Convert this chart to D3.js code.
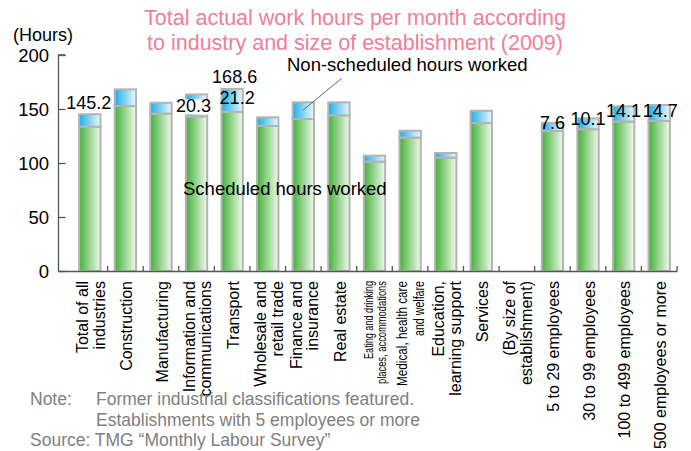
<!DOCTYPE html>
<html>
<head>
<meta charset="utf-8">
<script src="https://cdn.jsdelivr.net/npm/d3@7/dist/d3.min.js"></script>
<style>
  body { margin: 0; background: #fff; }
  text { font-family: "Liberation Sans", Arial, Helvetica, sans-serif; }
</style>
</head>
<body>
<div id="chart"></div>
<script>
// categories, one entry per bar slot ("|" splits the label into lines)
var categories = [
  "Total of all|industries", "Construction", "Manufacturing",
  "Information and|communications", "Transport", "Wholesale and|retail trade",
  "Finance and|insurance", "Real estate",
  "Eating and drinking|places, accommodations",
  "Medical, health care|and welfare", "Education,|learning support",
  "Services", "(By size of|establishment)",
  "5 to 29 employees", "30 to 99 employees", "100 to 499 employees",
  "500 employees or more"
];
// hours per month (slot 12 is the empty heading slot)
var scheduled    = [133.6, 152.8, 145.7, 143.2, 147.4, 134.3, 140.7, 144.1, 101.2, 123.5, 104.9, 137.0, null, 129.6, 131.3, 138.4, 139.0];
var nonScheduled = [ 11.6,  15.4,  10.1,  20.3,  21.2,   8.0,  15.5,  12.1,   5.6,   6.4,   4.4,  11.4, null,   7.6,  10.1,  14.1,  14.7];
var yTicks = [0, 50, 100, 150, 200];

// value labels printed on the chart
var noteIndex = [0, 3, 4, 4, 13, 14, 15, 16];
var noteText  = ["145.2", "20.3", "168.6", "21.2", "7.6", "10.1", "14.1", "14.7"];

var W = 691, H = 451;

var svg = d3.select("#chart").append("svg")
  .attr("width", W).attr("height", H);

var defs = svg.append("defs");
function grad(id, c0, c1) {
  var g = defs.append("linearGradient").attr("id", id)
    .attr("x1", "0%").attr("x2", "100%").attr("y1", "0%").attr("y2", "0%");
  g.append("stop").attr("offset", "0%").attr("stop-color", c0);
  g.append("stop").attr("offset", "100%").attr("stop-color", c1);
}
grad("gGreen", "#43b139", "#f2f9ee");
grad("gBlue", "#1fade6", "#eef8fd");

var x = d3.scaleBand()
  .domain(d3.range(categories.length))
  .range([72, 677])
  .paddingInner(0.4)
  .paddingOuter(0.2);

var y = d3.scaleLinear().domain([0, 200]).range([271, 55]);

// title
var title = svg.append("text")
  .attr("text-anchor", "middle")
  .style("font-size", "21.5px")
  .style("fill", "#f07e99");
title.append("tspan").attr("x", 355).attr("y", 25).text("Total actual work hours per month according");
title.append("tspan").attr("x", 355).attr("y", 50).text("to industry and size of establishment (2009)");

svg.append("text")
  .attr("x", 13).attr("y", 41)
  .style("font-size", "18px")
  .text("(Hours)");

// y axis (ticks point inward)
var yAxis = svg.append("g").attr("transform", "translate(58.5,0)")
  .call(d3.axisRight(y).tickValues(yTicks).tickSize(7).tickFormat(""));
yAxis.select(".domain").attr("d", "M7," + y(200) + "H0V" + y(0));
yAxis.selectAll("line, path").attr("stroke", "#555").attr("stroke-width", 1.3);

svg.selectAll(".ylab").data(yTicks).enter().append("text")
  .attr("class", "ylab")
  .attr("x", 49).attr("y", function(d) { return y(d); })
  .attr("dy", "0.36em")
  .attr("text-anchor", "end")
  .style("font-size", "18.5px")
  .text(function(d) { return d; });

// bars
var idx = d3.range(categories.length).filter(function(i) { return scheduled[i] != null; });
var bars = svg.append("g");

bars.selectAll(".sched").data(idx).enter().append("rect")
  .attr("x", function(i) { return x(i); })
  .attr("width", x.bandwidth())
  .attr("y", function(i) { return y(scheduled[i]); })
  .attr("height", function(i) { return y(0) - y(scheduled[i]); })
  .attr("fill", "url(#gGreen)")
  .attr("stroke", "#b4b4b4").attr("stroke-width", 2);

bars.selectAll(".extra").data(idx).enter().append("rect")
  .attr("x", function(i) { return x(i); })
  .attr("width", x.bandwidth())
  .attr("y", function(i) { return y(scheduled[i] + nonScheduled[i]); })
  .attr("height", function(i) { return y(scheduled[i]) - y(scheduled[i] + nonScheduled[i]); })
  .attr("fill", "url(#gBlue)")
  .attr("stroke", "#b4b4b4").attr("stroke-width", 2);

// x axis line with small upward ticks between slots
var xa = svg.append("g");
xa.append("line")
  .attr("x1", 58).attr("x2", 677.5).attr("y1", y(0) + 0.5).attr("y2", y(0) + 0.5)
  .attr("stroke", "#555").attr("stroke-width", 1.3);
xa.selectAll(".xt").data(d3.range(1, categories.length + 1)).enter().append("line")
  .attr("x1", function(k) { return x.range()[0] + k * x.step(); })
  .attr("x2", function(k) { return x.range()[0] + k * x.step(); })
  .attr("y1", y(0)).attr("y2", y(0) - 5)
  .attr("stroke", "#555").attr("stroke-width", 1.3);

// category labels, rotated
var special = {
  8: { size: 12, lens: [78, 103], gap: 6.3 },
  9: { size: 14, lens: [105, 55], gap: 8.5 }
};
categories.forEach(function(c, i) {
  var lines = c.split("|");
  var cx = x(i) + x.bandwidth() / 2;
  var sp = special[i];
  var gap = sp ? sp.gap : 8.3;
  var g = svg.append("g").attr("transform", "translate(" + (cx + 1) + ",281) rotate(-90)");
  lines.forEach(function(l, k) {
    var off = lines.length === 1 ? 0 : (k === 0 ? -gap : gap);
    var t = g.append("text")
      .attr("x", 0).attr("y", off)
      .attr("dy", "0.35em")
      .attr("text-anchor", "end")
      .style("font-size", (sp ? sp.size : 16) + "px")
      .text(l);
    if (sp) t.attr("textLength", sp.lens[k]).attr("lengthAdjust", "spacingAndGlyphs");
  });
});

// value labels
var noteOffset = [[-1, -5], [-3, 18], [2.5, -5.6], [5, 15.4], [0, 6], [0, 6.7], [0, 11], [1, 11.7]];
noteIndex.forEach(function(i, k) {
  var cx = x(i) + x.bandwidth() / 2 + noteOffset[k][0];
  var by = y(scheduled[i] + nonScheduled[i]) + noteOffset[k][1];
  if (noteText[k] === "20.3") {
    svg.append("rect").attr("x", cx - 17).attr("y", by - 13).attr("width", 34).attr("height", 15).attr("fill", "#fff");
  }
  svg.append("text")
    .attr("x", cx).attr("y", by)
    .attr("text-anchor", "middle")
    .style("font-size", "18px")
    .text(noteText[k]);
});

// series annotations
svg.append("line")
  .attr("x1", 341.7).attr("y1", 78.3).attr("x2", 303.3).attr("y2", 110)
  .attr("stroke", "#666").attr("stroke-width", 1);
svg.append("text").attr("x", 287).attr("y", 71)
  .style("font-size", "18.5px").text("Non-scheduled hours worked");
svg.append("text").attr("x", 183).attr("y", 195)
  .style("font-size", "18.5px").text("Scheduled hours worked");

// notes
var notes = svg.append("g").style("font-size", "17.5px").style("fill", "#808080");
notes.append("text").attr("x", 30).attr("y", 405).text("Note:");
notes.append("text").attr("x", 96).attr("y", 405).text("Former industrial classifications featured.");
notes.append("text").attr("x", 96).attr("y", 426).text("Establishments with 5 employees or more");
notes.append("text").attr("x", 30).attr("y", 446).text("Source: TMG \u201cMonthly Labour Survey\u201d");
</script>
</body>
</html>
